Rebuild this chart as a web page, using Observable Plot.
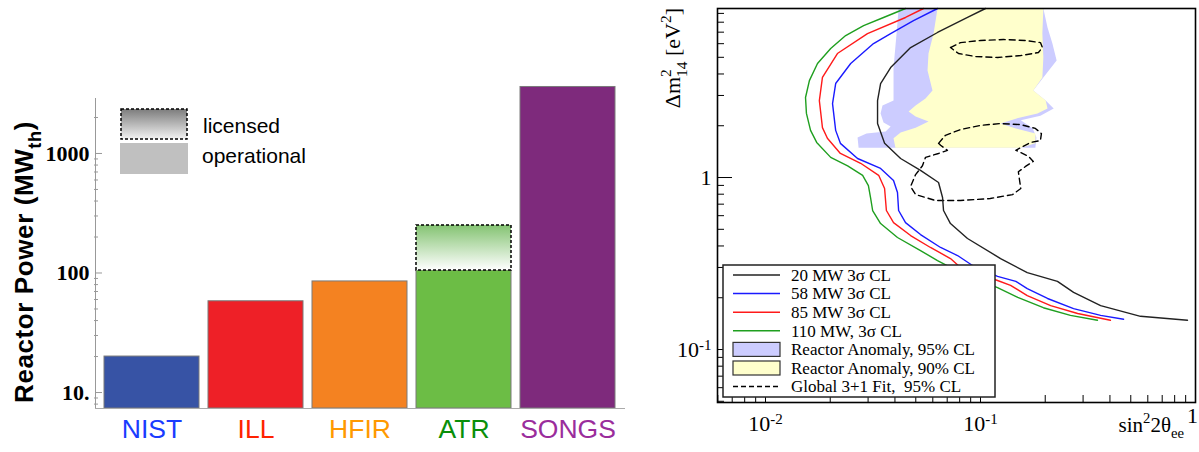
<!DOCTYPE html>
<html><head><meta charset="utf-8">
<script src="https://cdn.jsdelivr.net/npm/d3@7"></script>
<script src="https://cdn.jsdelivr.net/npm/@observablehq/plot@0.6"></script>
<style>
body{margin:0;background:#fff;}
#wrap{position:relative;width:1199px;height:452px;overflow:hidden;background:#fff;}
#left{position:absolute;left:0;top:0;width:650px;height:452px;}
#right{position:absolute;left:650px;top:0;width:549px;height:452px;}
#overlay{position:absolute;left:0;top:0;}
</style></head><body>
<div id="wrap"><div id="left"></div><div id="right"></div><svg id="overlay" width="1199" height="452"></svg></div>
<script>
// ---------- left panel data ----------
const reactors = ["NIST", "ILL", "HFIR", "ATR", "SONGS"];
const operationalPower = [20, 58, 85, 105, 3600];
const licensedPower = [null, null, null, 250, null];
const barColors = ["#3753a5", "#ee2027", "#f48221", "#6cbd45", "#7e2a7c"];
const labelColors = ["#1a3cff", "#ff2200", "#ff9900", "#0a8f0a", "#9a2d9c"];
const powerTicks = [10, 100, 1000];
const powerMinorTicks = [8, 9, 20, 30, 40, 50, 60, 70, 80, 90, 200, 300, 400, 500, 600, 700, 800, 900, 2000];

// ---------- right panel data [sin^2 2theta, dm^2] ----------
const sens20 = [[0.1055,9.61],[0.0870,8.52],[0.0631,6.97],[0.0473,5.70],[0.0382,4.36],[0.0343,3.52],[0.0332,2.80],[0.0332,2.06],[0.0358,1.58],[0.0425,1.29],[0.0526,1.10],[0.0638,0.935],[0.0666,0.765],[0.0673,0.643],[0.0725,0.540],[0.0870,0.442],[0.124,0.338],[0.165,0.280],[0.228,0.249],[0.271,0.215],[0.362,0.180],[0.555,0.156],[0.918,0.148]];
const sens58 = [[0.0631,9.61],[0.0488,8.18],[0.0382,6.87],[0.0318,6.01],[0.0249,4.60],[0.0212,3.52],[0.0205,2.69],[0.0212,1.88],[0.0223,1.58],[0.0268,1.29],[0.0343,1.13],[0.0394,0.961],[0.0411,0.818],[0.0416,0.643],[0.0448,0.547],[0.0526,0.466],[0.0652,0.392],[0.0782,0.352],[0.0918,0.308],[0.120,0.266],[0.146,0.249],[0.165,0.226],[0.205,0.198],[0.271,0.173],[0.362,0.158],[0.463,0.150]];
const sens85 = [[0.0543,9.61],[0.0448,8.52],[0.0298,6.87],[0.0216,5.26],[0.0184,3.82],[0.0178,2.80],[0.0184,1.95],[0.0194,1.69],[0.0223,1.38],[0.0277,1.21],[0.0336,1.03],[0.0358,0.863],[0.0365,0.643],[0.0394,0.547],[0.0473,0.460],[0.0585,0.392],[0.0725,0.338],[0.0807,0.300],[0.120,0.252],[0.138,0.236],[0.165,0.206],[0.212,0.180],[0.283,0.162],[0.402,0.148]];
const sens110 = [[0.0448,9.61],[0.0354,8.52],[0.0286,7.65],[0.0236,6.69],[0.0201,5.62],[0.01745,4.60],[0.0160,3.66],[0.01535,2.92],[0.0155,2.36],[0.0162,1.88],[0.0173,1.60],[0.0201,1.31],[0.0241,1.17],[0.0283,1.03],[0.0301,0.898],[0.0308,0.765],[0.0315,0.643],[0.0343,0.540],[0.0411,0.448],[0.0526,0.376],[0.0631,0.329],[0.0807,0.280],[0.120,0.229],[0.149,0.201],[0.196,0.175],[0.262,0.158],[0.350,0.148]];
const anomaly95 = [[0.0416,9.61],[0.196,9.61],[0.205,7.45],[0.216,6.01],[0.226,4.79],[0.196,3.82],[0.176,3.21],[0.201,2.80],[0.219,2.52],[0.190,2.29],[0.154,2.15],[0.175,1.93],[0.182,1.71],[0.180,1.49],[0.0271,1.49],[0.0268,1.71],[0.0295,1.80],[0.0362,1.85],[0.0382,1.98],[0.0354,2.09],[0.0343,2.36],[0.0350,2.62],[0.0394,2.80],[0.0394,4.36],[0.0407,6.87],[0.0416,9.61]];
const anomaly90 = [[0.0631,9.61],[0.196,9.61],[0.194,6.87],[0.196,4.99],[0.194,3.82],[0.176,3.21],[0.201,2.80],[0.205,2.52],[0.184,2.36],[0.146,2.20],[0.124,2.06],[0.146,1.93],[0.180,1.80],[0.180,1.58],[0.154,1.49],[0.0402,1.49],[0.0394,1.69],[0.0425,1.83],[0.0499,1.95],[0.0573,2.12],[0.0499,2.26],[0.0463,2.42],[0.0499,2.62],[0.0555,2.88],[0.0598,3.21],[0.0567,4.19],[0.0573,5.26],[0.0605,6.87],[0.0631,9.61]];
const fitUpper = [[0.0725,5.70],[0.0807,6.09],[0.100,6.26],[0.128,6.34],[0.162,6.26],[0.190,6.09],[0.194,5.70],[0.186,5.33],[0.154,5.12],[0.120,4.99],[0.0948,5.05],[0.0790,5.26],[0.0725,5.70]];
const fitLower = [[0.0638,1.58],[0.0687,1.76],[0.0807,1.90],[0.100,2.01],[0.124,2.06],[0.154,2.03],[0.180,1.93],[0.192,1.80],[0.190,1.64],[0.171,1.60],[0.146,1.44],[0.167,1.33],[0.176,1.24],[0.162,1.16],[0.150,1.08],[0.152,0.961],[0.154,0.863],[0.141,0.796],[0.111,0.755],[0.0807,0.735],[0.0618,0.735],[0.0499,0.796],[0.0473,0.886],[0.0499,1.04],[0.0537,1.17],[0.0555,1.31],[0.0638,1.38],[0.0702,1.44],[0.0652,1.54],[0.0638,1.58]];
const xMajor = [0.01, 0.1];
const xEnd = [1];
const xMinor = [0.006,0.007,0.008,0.009,0.02,0.03,0.04,0.05,0.06,0.07,0.08,0.09,0.2,0.3,0.4,0.5,0.6,0.7,0.8,0.9];
const yMajor = [0.1, 1];
const yMinor = [0.05,0.06,0.07,0.08,0.09,0.2,0.3,0.4,0.5,0.6,0.7,0.8,0.9,2,3,4,5,6,7,8,9];

const legendRows = [
  {kind:"line", color:"#222222", label:"20 MW 3σ CL"},
  {kind:"line", color:"#1a1aff", label:"58 MW 3σ CL"},
  {kind:"line", color:"#ff1a1a", label:"85 MW 3σ CL"},
  {kind:"line", color:"#1f9f1f", label:"110 MW, 3σ CL"},
  {kind:"box", color:"#ccccff", label:"Reactor Anomaly, 95% CL"},
  {kind:"box", color:"#ffffcc", label:"Reactor Anomaly, 90% CL"},
  {kind:"dash", color:"#000000", label:"Global 3+1 Fit,  95% CL"}
];

// ---------- left plot ----------
const yMin = 7.35;
const rows = reactors.map((r,i)=>({name:r, power:operationalPower[i], color:barColors[i], labelColor:labelColors[i]}));
const licRows = reactors.map((r,i)=>({name:r, op:operationalPower[i], lic:licensedPower[i]})).filter(d=>d.lic!=null);

const left = Plot.plot({
  width:650, height:452, marginLeft:95, marginRight:26, marginTop:98, marginBottom:44,
  style:{background:"transparent"},
  x:{domain:reactors, paddingInner:0.088, paddingOuter:0.0825, axis:null, label:null},
  y:{type:"log", domain:[yMin, 2884], label:null},
  color:{type:"identity"},
  marks:[
    Plot.barY(rows, {x:"name", y1:yMin, y2:"power", fill:"color", stroke:"#7a7a7a", strokeWidth:1}),
    Plot.barY(licRows, {x:"name", y1:"op", y2:"lic", fill:"url(#gradATR)", stroke:"#000", strokeDasharray:"3,2", strokeWidth:1.5}),
    Plot.frame({anchor:"left", stroke:"#999"}),
    Plot.frame({anchor:"bottom", stroke:"#aaa"}),
    Plot.axisY(powerMinorTicks, {tickSize:4, dx:3, stroke:"#999", tickFormat:()=>""}),
    Plot.axisY(powerTicks, {tickSize:7, dx:7, stroke:"#999", tickFormat:()=>""}),
    Plot.axisY(powerTicks, {tickSize:0, tickPadding:6, fontSize:22, fontWeight:"bold", fontFamily:"Liberation Serif", tickFormat:d=> d===10 ? "10." : String(d)}),
    Plot.text(rows, {x:"name", text:"name", fill:"labelColor", frameAnchor:"bottom", dy:29, fontSize:26.5, fontFamily:"Liberation Sans"})
  ]
});
document.getElementById("left").appendChild(left);

// ---------- right plot ----------
const xy = {x:d=>d[0], y:d=>d[1]};
const logFmt = d => d===1 ? "1" : "10^" + Math.round(Math.log10(d));
const right = Plot.plot({
  width:549, height:452, marginLeft:67, marginRight:4, marginTop:8, marginBottom:50,
  style:{background:"transparent"},
  x:{type:"log", domain:[0.00598, 1], label:null},
  y:{type:"log", domain:[0.0492, 9.61], label:null},
  marks:[
    Plot.line(anomaly95, {...xy, fill:"#ccccff", stroke:"none"}),
    Plot.line(anomaly90, {...xy, fill:"#ffffcc", stroke:"none"}),
    Plot.line(fitUpper, {...xy, stroke:"#000", strokeWidth:1.4, strokeDasharray:"6,4"}),
    Plot.line(fitLower, {...xy, stroke:"#000", strokeWidth:1.4, strokeDasharray:"6,4"}),
    Plot.line(sens110, {...xy, stroke:"#1f9f1f", strokeWidth:1.4}),
    Plot.line(sens85, {...xy, stroke:"#ff1a1a", strokeWidth:1.4}),
    Plot.line(sens58, {...xy, stroke:"#1a1aff", strokeWidth:1.4}),
    Plot.line(sens20, {...xy, stroke:"#222", strokeWidth:1.4}),
    Plot.frame({stroke:"#000", strokeWidth:1.6}),
    Plot.axisY(yMinor, {tickSize:7, dx:7, stroke:"#000", tickFormat:()=>""}),
    Plot.axisY(yMajor, {tickSize:15, dx:15, stroke:"#000", tickFormat:()=>""}),
    Plot.axisX(xMinor, {tickSize:7, dy:-7, stroke:"#000", tickFormat:()=>""}),
    Plot.axisX(xMajor, {tickSize:15, dy:-15, stroke:"#000", tickFormat:()=>""}),
    Plot.axisY(yMajor, {tickSize:0, tickPadding:6, fontSize:22, fontFamily:"Liberation Serif", tickFormat:logFmt}),
    Plot.axisX(xMajor, {tickSize:0, tickPadding:13, fontSize:22, fontFamily:"Liberation Serif", tickFormat:logFmt}),
    Plot.axisX(xEnd, {tickSize:0, tickPadding:5, dx:-3, fontSize:22, fontFamily:"Liberation Serif", tickFormat:logFmt})
  ]
});
document.getElementById("right").appendChild(right);
d3.select(right).selectAll("text").each(function(){
  const t = this.textContent;
  if (t.includes("^")) {
    const [b, e] = t.split("^");
    this.textContent = b;
    d3.select(this).append("tspan").attr("dy","-0.45em").attr("font-size","15px").text(e);
  }
});

// ---------- overlay: gradients, legends, titles ----------
const ov = d3.select("#overlay");
const defs = ov.append("defs");
const gA = defs.append("linearGradient").attr("id","gradATR").attr("x1",0).attr("y1",0).attr("x2",0).attr("y2",1);
gA.append("stop").attr("offset","0%").attr("stop-color","#84c372");
gA.append("stop").attr("offset","100%").attr("stop-color","#ffffff");
const gL = defs.append("linearGradient").attr("id","gradLegend").attr("x1",0).attr("y1",0).attr("x2",0).attr("y2",1);
gL.append("stop").attr("offset","0%").attr("stop-color","#7c7c7c");
gL.append("stop").attr("offset","100%").attr("stop-color","#f2f2f2");

function rich(sel, parts, fs){
  let cur = 0;
  parts.forEach(p=>{
    const target = p.sup ? -0.42*fs : p.sub ? 0.3*fs : 0;
    const ts = sel.append("tspan").text(p.t).attr("dy", (target-cur)+"px");
    if (p.sup || p.sub) ts.attr("font-size", (0.7*fs)+"px");
    if (p.dx) ts.attr("dx", p.dx+"px");
    cur = target;
  });
}

// left legend
ov.append("rect").attr("x",121).attr("y",109).attr("width",66).attr("height",30)
  .attr("fill","url(#gradLegend)").attr("stroke","#000").attr("stroke-width",1.5).attr("stroke-dasharray","3,2");
ov.append("rect").attr("x",120).attr("y",143).attr("width",68).attr("height",31).attr("fill","#c0c0c0");
ov.append("text").attr("x",203).attr("y",133).attr("font-family","Liberation Sans").attr("font-size",21).text("licensed");
ov.append("text").attr("x",202).attr("y",163).attr("font-family","Liberation Sans").attr("font-size",21).text("operational");

// left y title
const lt = ov.append("text").attr("transform","translate(33,262) rotate(-90)").attr("text-anchor","middle")
  .attr("font-family","Liberation Sans").attr("font-weight","bold").attr("font-size",26).attr("letter-spacing","0.6px");
rich(lt, [{t:"Reactor Power (MW"},{t:"th",sub:true},{t:")"}], 26);

// right legend
const lg = ov.append("g");
lg.append("rect").attr("x",723).attr("y",265).attr("width",272).attr("height",132).attr("fill","#fff").attr("stroke","#222").attr("stroke-width",1.5);
legendRows.forEach((r,i)=>{
  const cy = 275 + i*18.6;
  if (r.kind === "box") {
    lg.append("rect").attr("x",733).attr("y",cy-7).attr("width",47).attr("height",14).attr("fill",r.color).attr("stroke","#333").attr("stroke-width",1.2);
  } else {
    lg.append("line").attr("x1",733).attr("x2",780).attr("y1",cy).attr("y2",cy).attr("stroke",r.color).attr("stroke-width",1.5)
      .attr("stroke-dasharray", r.kind==="dash" ? "5,3" : null);
  }
  lg.append("text").attr("x",791).attr("y",cy).attr("dy","0.34em").attr("font-family","Liberation Serif").attr("font-size",17)
    .style("white-space","pre").text(r.label);
});

// right titles
const yt = ov.append("text").attr("transform","translate(680,8) rotate(-90)").attr("text-anchor","end")
  .attr("font-family","Liberation Serif").attr("font-size",22);
rich(yt, [{t:"Δm"},{t:"2",sup:true},{t:"14",sub:true,dx:-7.7},{t:" [eV"},{t:"2",sup:true},{t:"]"}], 22);
const xt = ov.append("text").attr("x",1184).attr("y",432).attr("text-anchor","end")
  .attr("font-family","Liberation Serif").attr("font-size",21);
rich(xt, [{t:"sin"},{t:"2",sup:true},{t:"2θ"},{t:"ee",sub:true}], 21);
</script>
</body></html>
